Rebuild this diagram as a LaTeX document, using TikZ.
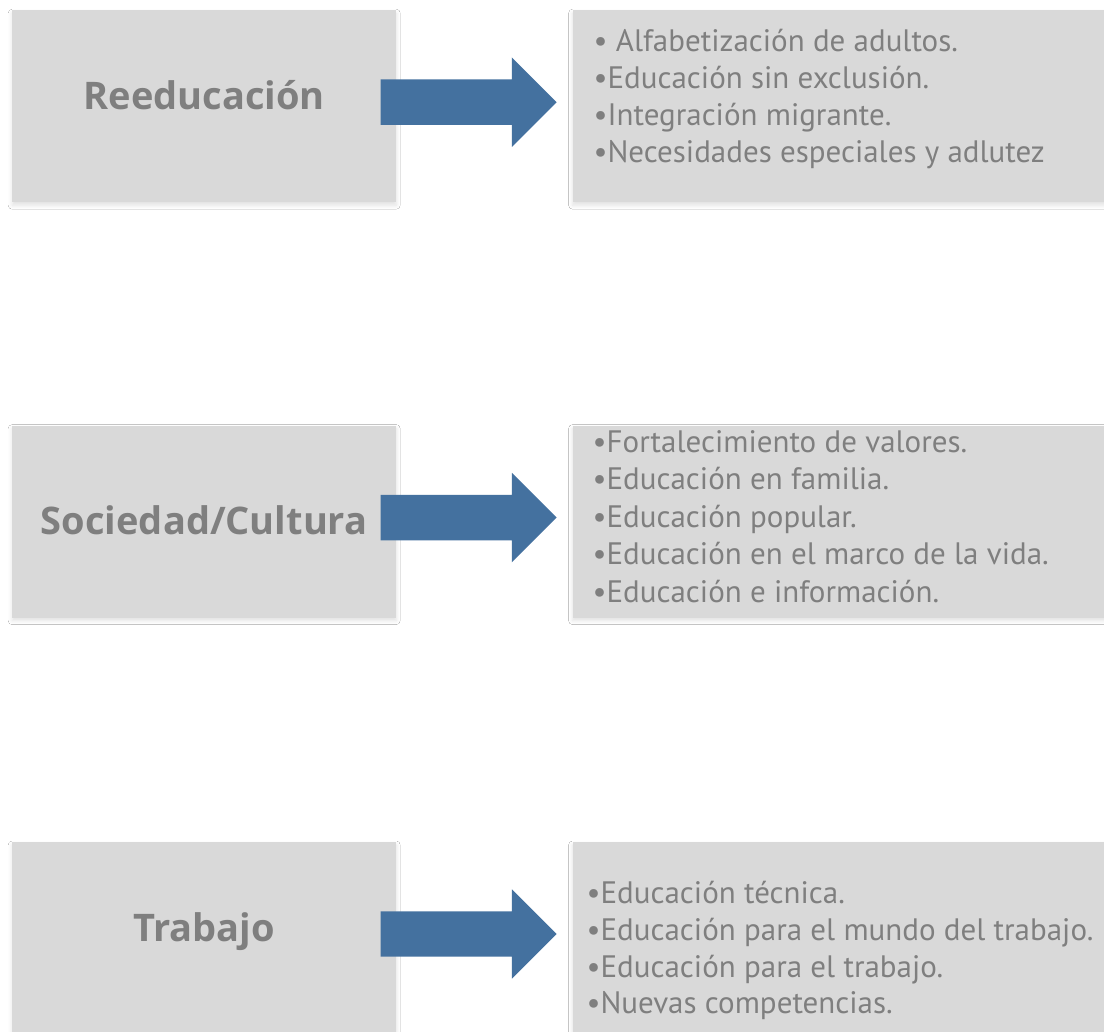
\documentclass[tikz,border=0pt]{standalone}
\usepackage{fontspec}
\setmainfont{PT Sans}
\newfontfamily\titlefont{Open Sans}
\usetikzlibrary{positioning,shapes.arrows,shadows.blur}
\definecolor{boxgray}{HTML}{D9D9D9}
\definecolor{textgray}{HTML}{7F7F7F}
\definecolor{arrowblue}{HTML}{44719F}
\tikzset{
  panel/.style={fill=boxgray, draw=none, minimum height=192pt,
    blur shadow={shadow xshift=0pt, shadow yshift=-3pt, shadow blur radius=4pt, shadow opacity=12}},
  topic/.style={text=textgray, anchor=base, inner sep=0pt, font=\titlefont\fontsize{38}{44}\selectfont\bfseries},
  item/.style={text=textgray, anchor=base west, inner sep=0pt, font=\fontsize{31}{36}\selectfont},
  flecha/.style={single arrow, fill=arrowblue, draw=none, inner xsep=0pt, inner ysep=22.5pt, anchor=tail,
    minimum width=89pt, minimum height=176pt, single arrow head extend=22pt}}

\begin{document}
\begin{tikzpicture}[x=1pt, y=-1pt]
  \clip (0,0) rectangle (1104,1032);
  \fill[white] (0,0) rectangle (1104,1032);

  % cajas de la izquierda
  \node[panel, minimum width=384pt, anchor=north west] (izq1) at (12,10) {};
  \node[panel, minimum width=384pt, below=223pt of izq1] (izq2) {};
  \node[panel, minimum width=384pt, below=224pt of izq2] (izq3) {};

  % cajas de la derecha
  \foreach \n in {1,2,3} {
    \node[panel, minimum width=560pt, right=176pt of izq\n] (der\n) {};
  }

  % flechas
  \foreach \n in {1,2,3} {
    \node[flecha] (fl\n) at ([shift={(-16,-4)}]izq\n.east) {};
  }

  % titulos
  \node[topic] (tit1) at ([yshift=-3]izq1.center) {Reeducación};
  \node[topic] (tit2) at ([yshift=-13]izq2.center) {Sociedad/Cultura};
  \node[topic] (tit3) at ([yshift=-3]izq3.center) {Trabajo};

  % listas
  \foreach \t [count=\i] in {• Alfabetización de adultos., •Educación sin exclusión.,
      •Integración migrante., •Necesidades especiales y adlutez} {
    \node[item] (re\i) at ([shift={(21,{42+37*(\i-1)})}]der1.north west) {\t};
  }
  \foreach \t [count=\i] in {•Fortalecimiento de valores., •Educación en familia.,
      •Educación popular., •Educación en el marco de la vida., •Educación e información.} {
    \node[item] (so\i) at ([shift={(20,{27+37.5*(\i-1)})}]der2.north west) {\t};
  }
  \foreach \t [count=\i] in {•Educación técnica., •Educación para el mundo del trabajo.,
      •Educación para el trabajo., •Nuevas competencias.} {
    \node[item] (tr\i) at ([shift={(14,{62+36.7*(\i-1)})}]der3.north west) {\t};
  }
\end{tikzpicture}
\end{document}
